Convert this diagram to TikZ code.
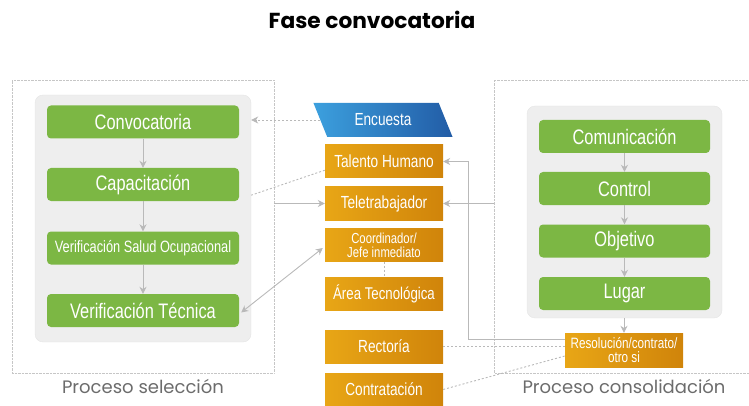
\documentclass[tikz,border=0pt]{standalone}
\usepackage{fontspec}
\usetikzlibrary{arrows.meta,shapes.geometric}
\newfontfamily\narrowfont{Liberation Sans}[FakeStretch=0.78]
\newfontfamily\gothicfont{Poppins}
\definecolor{boxgreen}{RGB}{124,183,68}
\definecolor{orangeL}{RGB}{232,166,22}
\definecolor{orangeR}{RGB}{208,132,10}
\definecolor{blueL}{RGB}{60,160,222}
\definecolor{blueR}{RGB}{34,92,166}
\definecolor{panelgray}{RGB}{238,238,238}
\definecolor{linegray}{RGB}{185,185,185}
\tikzset{
	green box/.style={rectangle, rounded corners=4pt, fill=boxgreen, text=white, font=\narrowfont\fontsize{21}{21}\selectfont, minimum height=33pt, inner sep=0pt},
	orange box/.style={rectangle, left color=orangeL, right color=orangeR, text=white, font=\narrowfont\fontsize{17.5}{17.5}\selectfont, minimum width=118pt, minimum height=33pt, inner sep=0pt, align=center},
	panel/.style={rectangle, rounded corners=8pt, fill=panelgray, draw=gray!20, inner sep=0pt},
	group/.style={rectangle, draw=gray!45, densely dotted, inner sep=0pt},
	flow/.style={draw=linegray, line width=0.9pt, -{Stealth[length=7pt,width=7pt]}},
	link/.style={draw=linegray, line width=0.9pt, densely dashed, dash pattern=on 2pt off 2pt},
	grouplabel/.style={text=gray!85!black, font=\gothicfont\fontsize{18}{18}\selectfont}
}
\begin{document}
\begin{tikzpicture}[x=1pt,y=-1pt]
\useasboundingbox (0,0) rectangle (749,406);
\node[font=\gothicfont\bfseries\fontsize{21.7}{22}\selectfont] (title) at (372,20) {Fase convocatoria};

\node[group, minimum width=262pt, minimum height=293pt] (selbox) at (143,226.5) {};
\node[panel, minimum width=216pt, minimum height=247pt] (selpanel) at (143,218.5) {};
\node[grouplabel] (sellabel) at (143,386) {Proceso selección};
\draw[gray!45, densely dotted] (749,80) -- (494,80) -- (494,373) -- (749,373);
\coordinate (conbox) at (494,226.5);
\node[panel, minimum width=195pt, minimum height=212pt] (conpanel) at (624.5,212) {};
\node[grouplabel] (conlabel) at (624,386) {Proceso consolidación};

\node[green box, minimum width=192pt] (conv) at (143,122) {Convocatoria};
\node[green box, minimum width=192pt] (cap) at (143,184.5) {Capacitación};
\node[green box, minimum width=192pt, font=\narrowfont\fontsize{16.4}{16}\selectfont] (vsal) at (143,248) {Verificación Salud Ocupacional};
\node[green box, minimum width=192pt] (vtec) at (143,310.5) {Verificación Técnica};

\node[trapezium, trapezium left angle=120, trapezium right angle=60, left color=blueL, right color=blueR, text=white, font=\narrowfont\fontsize{17.5}{17.5}\selectfont, minimum width=140pt, minimum height=34pt, inner sep=0pt, trapezium stretches=true] (enc) at (383,120) {Encuesta};
\node[orange box] (tal) at (384,161.5) {Talento Humano};
\node[orange box] (tele) at (384,203.5) {Teletrabajador};
\node[orange box, font=\narrowfont\fontsize{14.5}{14}\selectfont] (coord) at (384,245) {Coordinador/\\Jefe inmediato};
\node[orange box, font=\narrowfont\fontsize{17}{17}\selectfont] (area) at (384,294) {Área Tecnológica};
\node[orange box] (rec) at (384,346.5) {Rectoría};
\node[orange box] (contr) at (384,389.5) {Contratación};

\node[green box, minimum width=171pt] (com) at (624.5,136.5) {Comunicación};
\node[green box, minimum width=171pt] (ctrl) at (624.5,188.5) {Control};
\node[green box, minimum width=171pt] (obj) at (624.5,241) {Objetivo};
\node[green box, minimum width=171pt] (lug) at (624.5,293.5) {Lugar};
\node[orange box, minimum height=34pt, font=\narrowfont\fontsize{15}{14}\selectfont] (res) at (624,350) {Resolución/contrato/\\otro si};
\coordinate (bend) at (468,339);

\draw[flow] (conv) -- (cap);
\draw[flow] (cap) -- (vsal);
\draw[flow] (vsal) -- (vtec);
\draw[flow] (com) -- (ctrl);
\draw[flow] (ctrl) -- (obj);
\draw[flow] (obj) -- (lug);
\draw[flow] (res.north |- conpanel.south) -- (res.north);

\draw[link, -{Stealth[length=7pt,width=7pt]}] (enc.west) -- (selpanel.east |- enc.west);
\draw[link] ([yshift=8pt]tal.south west) -- ([yshift=6pt]selpanel.east |- cap.south);
\draw[flow] (selbox.east |- tele) -- (tele.west);
\draw[flow, {Stealth[length=7pt,width=7pt]}-{Stealth[length=7pt,width=7pt]}] ([xshift=2pt,yshift=-2pt]vtec.east) -- ([xshift=-2pt,yshift=-3pt]coord.west);
\draw[link] (coord.south) -- (area.north);
\draw[flow] (conbox |- tele) -- (tele.east);
\draw[flow] ([yshift=11pt]res.west) -- (bend) |- (tal.east);
\draw[link] (rec.east) -- (res.west |- rec.east);
\draw[link] (contr.east) -- ([yshift=-6pt]res.west);
\end{tikzpicture}
\end{document}
